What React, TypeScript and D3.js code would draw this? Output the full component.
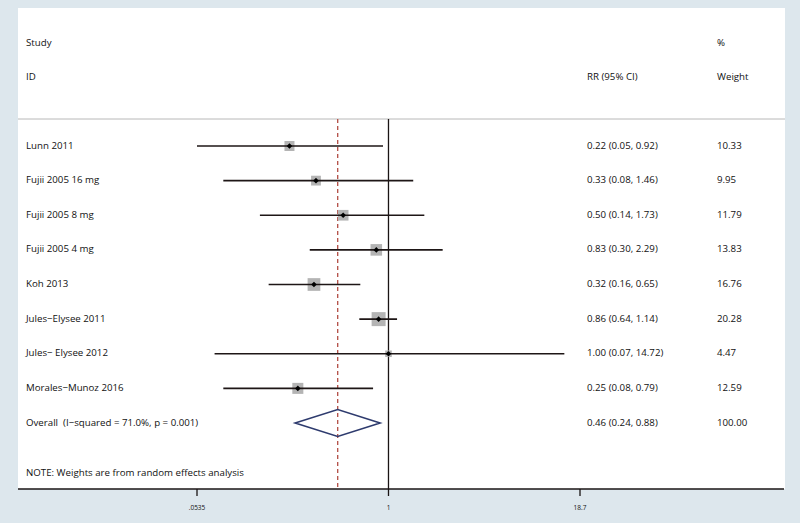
import React from "react";
import * as d3 from "d3";

const studies = [
  "Lunn 2011",
  "Fujii 2005 16 mg",
  "Fujii 2005 8 mg",
  "Fujii 2005 4 mg",
  "Koh 2013",
  "Jules\u2212Elysee 2011",
  "Jules\u2212 Elysee 2012",
  "Morales\u2212Munoz 2016",
];
const rr = [0.22, 0.33, 0.5, 0.83, 0.32, 0.86, 1.0, 0.25];
const lower = [0.05, 0.08, 0.14, 0.3, 0.16, 0.64, 0.07, 0.08];
const upper = [0.92, 1.46, 1.73, 2.29, 0.65, 1.14, 14.72, 0.79];
const weights = [10.33, 9.95, 11.79, 13.83, 16.76, 20.28, 4.47, 12.59];

const overallLabel = "Overall  (I\u2212squared = 71.0%, p = 0.001)";
const overallRR = 0.46;
const overallLower = 0.24;
const overallUpper = 0.88;
const overallWeight = 100.0;

const axisTicks = [0.0535, 1, 18.7];
const axisTickLabels = [".0535", "1", "18.7"];

const W = 800;
const H = 523;
const FONT = "'Open Sans', 'Liberation Sans', sans-serif";

export default function App() {
  const panel = { x0: 18, x1: 785, y0: 8, y1: 489 };
  const sepY = 119;
  const x = d3.scaleLog().domain([0.0535, 18.7]).range([197, 580]);
  const clampX = (v: number) => x(Math.max(0.0535, Math.min(18.7, v)));
  const rows = [...studies, "overall"];
  const y = d3.scalePoint<string>().domain(rows).range([146, 423]);
  const boxScale = d3.scaleSqrt().domain([0, 20.28]).range([0, 14]);
  const fmt = d3.format(".2f");
  const ciText = (m: number, l: number, u: number) =>
    `${fmt(m)} (${fmt(l)}, ${fmt(u)})`;

  const colRR = 587;
  const colW = 717;
  const textX = 26;
  const fs = 9.7;
  const textColor = "#111111";
  const oy = y("overall") as number;

  return (
    <svg
      width={W}
      height={H}
      style={{ position: "fixed", left: 0, top: 0 }}
      fontFamily={FONT}
    >
      <rect x={0} y={0} width={W} height={H} fill="#dde7ed" />
      <rect
        x={panel.x0}
        y={panel.y0}
        width={panel.x1 - panel.x0}
        height={panel.y1 - panel.y0}
        fill="#ffffff"
      />
      {/* headers */}
      <g fontSize={fs} fill={textColor}>
        <text x={textX} y={43} dominantBaseline="middle">Study</text>
        <text x={textX} y={77} dominantBaseline="middle">ID</text>
        <text x={colRR} y={77} dominantBaseline="middle">RR (95% CI)</text>
        <text x={colW} y={43} dominantBaseline="middle">%</text>
        <text x={colW} y={77} dominantBaseline="middle">Weight</text>
      </g>
      <line x1={panel.x0} x2={panel.x1} y1={sepY} y2={sepY} stroke="#b8b8b8" strokeWidth={1} />

      {/* null line */}
      <line x1={x(1)} x2={x(1)} y1={sepY} y2={panel.y1} stroke="#1a1414" strokeWidth={1.3} />
      {/* overall dashed line */}
      <line
        x1={x(overallRR)}
        x2={x(overallRR)}
        y1={sepY}
        y2={panel.y1}
        stroke="#b24c44"
        strokeWidth={1.3}
        strokeDasharray="4,3"
      />

      {/* studies */}
      {studies.map((s, i) => {
        const cy = y(s) as number;
        const b = boxScale(weights[i]);
        const cx = x(rr[i]);
        return (
          <g key={s}>
            <rect x={cx - b / 2} y={cy - b / 2} width={b} height={b} fill="#b4b4b4" />
            <line x1={clampX(lower[i])} x2={clampX(upper[i])} y1={cy} y2={cy} stroke="#1e1616" strokeWidth={1.6} />
            <path
              d={`M${cx - 2.8},${cy} L${cx},${cy - 2.8} L${cx + 2.8},${cy} L${cx},${cy + 2.8} Z`}
              fill="#000"
            />
            <text x={textX} y={cy} fontSize={fs} fill={textColor} dominantBaseline="middle">{s}</text>
            <text x={colRR} y={cy} fontSize={fs} fill={textColor} dominantBaseline="middle">
              {ciText(rr[i], lower[i], upper[i])}
            </text>
            <text x={colW} y={cy} fontSize={fs} fill={textColor} dominantBaseline="middle">
              {fmt(weights[i])}
            </text>
          </g>
        );
      })}

      {/* overall */}
      <path
        d={`M${x(overallLower)},${oy} L${x(overallRR)},${oy - 13.5} L${x(overallUpper)},${oy} L${x(overallRR)},${oy + 13.5} Z`}
        fill="none"
        stroke="#2e3b6e"
        strokeWidth={1.6}
      />
      <text x={textX} y={oy} fontSize={fs} fill={textColor} dominantBaseline="middle" style={{ whiteSpace: "pre" }}>
        {overallLabel}
      </text>
      <text x={colRR} y={oy} fontSize={fs} fill={textColor} dominantBaseline="middle">
        {ciText(overallRR, overallLower, overallUpper)}
      </text>
      <text x={colW} y={oy} fontSize={fs} fill={textColor} dominantBaseline="middle">
        {fmt(overallWeight)}
      </text>

      <text x={textX} y={473} fontSize={fs} fill={textColor} dominantBaseline="middle">
        NOTE: Weights are from random effects analysis
      </text>

      {/* axis */}
      <line x1={panel.x0} x2={panel.x1 - 1} y1={panel.y1} y2={panel.y1} stroke="#1a1414" strokeWidth={1.3} />
      {axisTicks.map((t, i) => (
        <g key={t}>
          <line x1={x(t)} x2={x(t)} y1={panel.y1} y2={panel.y1 + 7} stroke="#1a1414" strokeWidth={1.3} />
          <text x={x(t)} y={panel.y1 + 21} fontSize={6.5} textAnchor="middle" fill={textColor}>
            {axisTickLabels[i]}
          </text>
        </g>
      ))}
    </svg>
  );
}
